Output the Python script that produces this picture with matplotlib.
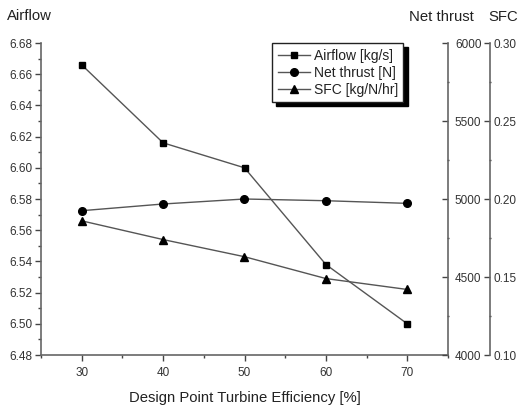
import matplotlib
matplotlib.use("Agg")
import matplotlib.pyplot as plt
from matplotlib.ticker import MultipleLocator, FormatStrFormatter

plt.rcParams['font.family'] = ['Liberation Sans', 'DejaVu Sans']

efficiency = [30, 40, 50, 60, 70]
airflow = [6.666, 6.616, 6.600, 6.538, 6.500]
net_thrust = [4925, 4968, 5000, 4989, 4972]
sfc = [0.186, 0.174, 0.163, 0.149, 0.142]

W, H = 521, 408
fig = plt.figure(figsize=(W / 100, H / 100), dpi=100)
L, R, T, B = 41, 448, 43, 355
ax = fig.add_axes([L / W, 1 - B / H, (R - L) / W, (B - T) / H])
ax2 = ax.twinx()
ax3 = ax.twinx()

line_c = '#555555'
tick_c = '#444444'
lab_c = '#333333'
title_c = '#222222'

l1, = ax.plot(efficiency, airflow, '-', color=line_c, lw=1.0, marker='s', ms=4.5,
              mfc='black', mec='black', label='Airflow [kg/s]', zorder=3)
l2, = ax2.plot(efficiency, net_thrust, '-', color=line_c, lw=1.0, marker='o', ms=5.5,
               mfc='black', mec='black', label='Net thrust [N]', zorder=3)
l3, = ax3.plot(efficiency, sfc, '-', color=line_c, lw=1.0, marker='^', ms=6,
               mfc='black', mec='black', label='SFC [kg/N/hr]', zorder=3)

ax.set_xlim(25, 75)
ax.set_ylim(6.48, 6.68)
ax2.set_ylim(4000, 6000)
ax3.set_ylim(0.10, 0.30)

ax.xaxis.set_major_locator(MultipleLocator(10))
ax.xaxis.set_minor_locator(MultipleLocator(5))
ax.yaxis.set_major_locator(MultipleLocator(0.02))
ax.yaxis.set_minor_locator(MultipleLocator(0.01))
ax.yaxis.set_major_formatter(FormatStrFormatter('%.2f'))
ax2.yaxis.set_major_locator(MultipleLocator(500))
ax2.yaxis.set_minor_locator(MultipleLocator(250))
ax3.yaxis.set_major_locator(MultipleLocator(0.05))
ax3.yaxis.set_minor_locator(MultipleLocator(0.025))
ax3.yaxis.set_major_formatter(FormatStrFormatter('%.2f'))

spine_c = '#666666'
for s in ['top', 'right']:
    ax.spines[s].set_visible(False)
for s in ['left', 'bottom']:
    ax.spines[s].set_color(spine_c)
    ax.spines[s].set_linewidth(1.2)
for a in (ax2, ax3):
    for s in ['top', 'left', 'bottom']:
        a.spines[s].set_visible(False)
    a.spines['right'].set_color(spine_c)
    a.spines['right'].set_linewidth(1.2)
ax3.spines['right'].set_position(('axes', (490 - L) / (R - L)))

ax.tick_params(axis='y', which='major', direction='out', length=4.3, width=1,
               color=tick_c, labelsize=8.5, labelcolor=lab_c, pad=2)
ax.tick_params(axis='x', which='major', direction='out', length=4, width=1,
               color=tick_c, labelsize=8.5, labelcolor=lab_c, pad=5)
ax.tick_params(axis='both', which='minor', direction='out', length=2, width=1, color=tick_c)
ax2.tick_params(axis='y', which='major', direction='in', length=4.3, width=1,
                color=tick_c, labelsize=8.5, labelcolor=lab_c, pad=5)
ax3.tick_params(axis='y', which='major', direction='in', length=4.3, width=1,
                color=tick_c, labelsize=8.5, labelcolor=lab_c, pad=2.5)
for a in (ax2, ax3):
    a.tick_params(axis='y', which='minor', direction='inout', length=2, width=1, color=tick_c)

ax.set_xlabel('Design Point Turbine Efficiency [%]', fontsize=10.7, color=title_c, labelpad=8)

fig.text(7 / W, 1 - 16.5 / H, 'Airflow', fontsize=10.7, color=title_c, va='center', ha='left')
fig.text(441 / W, 1 - 17 / H, 'Net thrust', fontsize=10.7, color=title_c, va='center', ha='center')
fig.text(503 / W, 1 - 17 / H, 'SFC', fontsize=10.7, color=title_c, va='center', ha='center')

leg = fig.legend(handles=[l1, l2, l3], loc='upper left',
                 bbox_to_anchor=(272 / W, 1 - 43 / H), fontsize=10,
                 frameon=True, fancybox=False, edgecolor='#222222',
                 shadow={'color': 'black', 'alpha': 1.0, 'ox': 3, 'oy': -3},
                 handlelength=2.3, handletextpad=0.3, borderpad=0.4,
                 labelspacing=0.22, borderaxespad=0, numpoints=1)
leg.get_frame().set_linewidth(1.0)
for t in leg.get_texts():
    t.set_color('#222222')

fig.savefig('out.png', dpi=100)
